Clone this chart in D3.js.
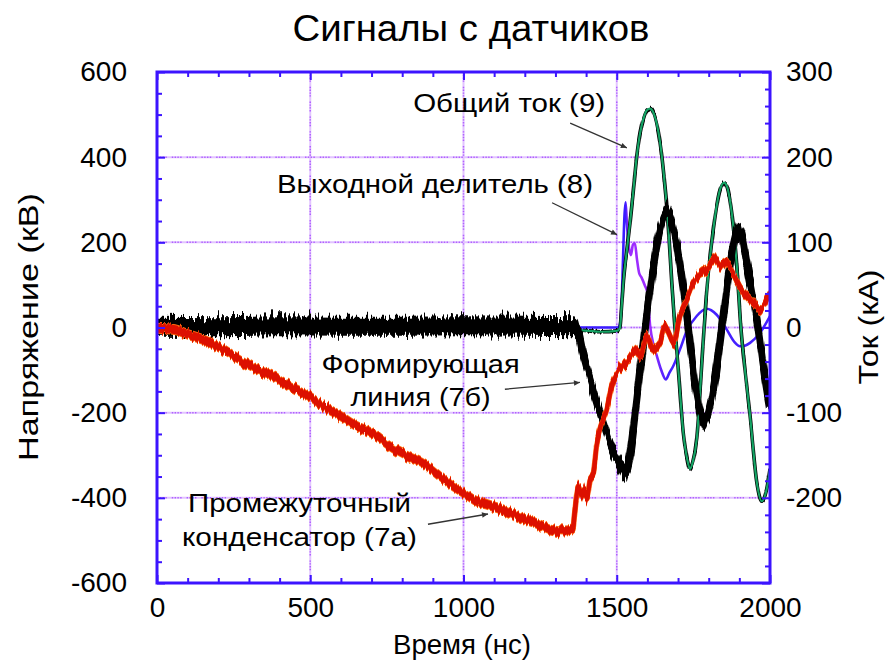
<!DOCTYPE html>
<html>
<head>
<meta charset="utf-8">
<script src="https://cdn.jsdelivr.net/npm/d3@7/dist/d3.min.js"></script>
<style>
  html, body { margin: 0; padding: 0; background: #fff; }
  svg { display: block; font-family: "Liberation Sans", Arial, Helvetica, sans-serif; }
</style>
</head>
<body>
<svg id="chart" width="887" height="660"></svg>
<script>
// ---- axis ticks ----
const timeTicks = [0, 500, 1000, 1500, 2000];          // ns
const voltTicks = [-600, -400, -200, 0, 200, 400, 600]; // kV, left axis
const currTicks = [-300, -200, -100, 0, 100, 200, 300]; // kA, right axis
const gridTime = [500, 1000, 1500];
const gridVolt = [-400, -200, 0, 200, 400];

// ---- measured signals: [time ns, value] ----
// Формирующая линия (7б), kV
const formingLine = [
  [0, 3], [200, 2], [400, 4], [600, 3], [800, 3], [1000, 4], [1200, 3], [1360, 2],
  [1372, -5], [1390, -62], [1423, -146], [1456, -223], [1489, -292], [1508, -322],
  [1518, -336], [1526, -340], [1534, -330], [1543, -300], [1565, -172], [1587, -36],
  [1603, 58], [1630, 190], [1648, 246], [1658, 266], [1666, 273], [1674, 264],
  [1686, 230], [1717, 89], [1733, 0], [1761, -160], [1776, -208], [1786, -220],
  [1795, -210], [1806, -180], [1822, -115], [1843, 0], [1865, 125], [1882, 200],
  [1891, 226], [1898, 233], [1906, 222], [1924, 152], [1961, 0], [1978, -91], [2000, -190]
];

// Промежуточный конденсатор (7а), kV
const intermediateCap = [
  [0, -2], [60, -5], [108, -18], [150, -28], [216, -52], [260, -73], [325, -99],
  [379, -114], [434, -138], [499, -162], [543, -185], [590, -204], [652, -232],
  [706, -250], [760, -279], [815, -302], [869, -320], [902, -336], [945, -362],
  [1000, -388], [1043, -408], [1080, -416], [1130, -428], [1180, -445], [1239, -460],
  [1293, -475], [1330, -478], [1357, -475], [1362, -442], [1375, -372], [1386, -396],
  [1393, -378], [1402, -403], [1413, -357], [1424, -341], [1435, -271], [1445, -239],
  [1467, -192], [1483, -138], [1500, -106], [1532, -83], [1565, -52], [1576, -68],
  [1598, -20], [1619, -52], [1641, -36], [1657, 3], [1674, -20], [1685, -36],
  [1706, 27], [1728, 66], [1750, 105], [1772, 128], [1793, 136], [1821, 164],
  [1837, 144], [1859, 152], [1880, 128], [1907, 89], [1924, 74], [1946, 58],
  [1967, 42], [1984, 58], [1995, 74], [2000, 70]
];

// Выходной делитель (8), kV
const outputDivider = [
  [0, 0], [1000, 0], [1505, 0], [1512, 15], [1516, 60], [1520, 150], [1525, 260],
  [1529, 294], [1533, 245], [1538, 200], [1546, 170], [1553, 195], [1559, 198],
  [1566, 160], [1573, 128], [1581, 117], [1592, 98], [1600, 82], [1609, 3],
  [1619, -38], [1630, -65], [1645, -100], [1660, -122], [1672, -106], [1684, -91],
  [1706, -52], [1728, -9], [1761, 27], [1793, 44], [1826, 30], [1859, -5],
  [1885, -35], [1902, -44], [1920, -42], [1935, -36], [1967, -13], [2000, 27]
];

// Общий ток (9), kA
const totalCurrent = [
  [0, -2], [400, -2], [800, -2], [1200, -3], [1370, -3], [1450, -5], [1500, -4],
  [1510, -1], [1516, 25], [1522, 55], [1532, 88], [1543, 122], [1554, 160],
  [1565, 200], [1576, 228], [1587, 245], [1598, 255], [1609, 257], [1620, 252],
  [1630, 240], [1641, 218], [1652, 185], [1668, 120], [1680, 50], [1690, 0],
  [1701, -50], [1717, -123], [1730, -155], [1739, -166], [1748, -158], [1761, -131],
  [1777, -45], [1785, 0], [1793, 40], [1815, 115], [1837, 162], [1850, 170],
  [1860, 165], [1869, 150], [1891, 76], [1905, 0], [1920, -55], [1935, -104],
  [1957, -182], [1973, -204], [1989, -190], [2000, -166]
];

// ---- annotations (time ns, kV on the left axis) ----
const notes = [
  { lines: ["Общий ток (9)"], t: 1149, v: 506, widths: [192],
    from: [1348, 480], to: [1533, 422] },
  { lines: ["Выходной делитель (8)"], t: 907, v: 316, widths: [316],
    from: [1289, 293], to: [1501, 218] },
  { lines: ["Формирующая", "линия (7б)"], t: 860, v: -106, widths: [198, 140],
    from: [1135, -145], to: [1380, -129] },
  { lines: ["Промежуточный", "конденсатор (7а)"], t: 465, v: -434, widths: [223, 235],
    from: [884, -462], to: [1080, -438] }
];

// ---- layout ----
const W = 887, H = 660;
const plot = { left: 157, right: 770, top: 72, bottom: 583 };
const frameColor = "#3c14ff";

const svg = d3.select("#chart");
const defs = svg.append("defs");

const x = d3.scaleLinear().domain([0, 2000]).range([plot.left, plot.right]);
const yV = d3.scaleLinear().domain([-600, 600]).range([plot.bottom, plot.top]);
const yI = d3.scaleLinear().domain([-300, 300]).range([plot.bottom, plot.top]);

// clip for traces
defs.append("clipPath").attr("id", "plotClip")
  .append("rect")
  .attr("x", plot.left).attr("y", plot.top)
  .attr("width", plot.right - plot.left).attr("height", plot.bottom - plot.top);

// jagged edges for noisy oscilloscope traces (vertical displacement only)
function roughFilter(id, scale, seed, fx) {
  const f = defs.append("filter").attr("id", id)
    .attr("filterUnits", "userSpaceOnUse")
    .attr("x", 0).attr("y", 0).attr("width", W).attr("height", H)
    .attr("color-interpolation-filters", "sRGB");
  f.append("feTurbulence").attr("type", "fractalNoise")
    .attr("baseFrequency", `${fx} 0.012`).attr("numOctaves", 2)
    .attr("seed", seed).attr("result", "noise");
  f.append("feColorMatrix").attr("in", "noise").attr("type", "matrix")
    .attr("values", "0 0 0 0 0.5  0 1 0 0 0  0 0 0 0 0  0 0 0 0 1")
    .attr("result", "disp");
  f.append("feDisplacementMap").attr("in", "SourceGraphic").attr("in2", "disp")
    .attr("scale", scale).attr("xChannelSelector", "R").attr("yChannelSelector", "G");
}
roughFilter("roughBlack", 20, 3, 0.45);
roughFilter("roughRed", 9, 11, 0.5);
roughFilter("roughGreen", 6, 21, 0.5);

// colour change along the divider trace
const grad = defs.append("linearGradient").attr("id", "dividerGrad")
  .attr("gradientUnits", "userSpaceOnUse")
  .attr("x1", x(1528)).attr("x2", x(1665)).attr("y1", 0).attr("y2", 0);
grad.append("stop").attr("offset", 0).attr("stop-color", "#3a1cff");
grad.append("stop").attr("offset", 0.08).attr("stop-color", "#9d2cff");
grad.append("stop").attr("offset", 0.6).attr("stop-color", "#9d2cff");
grad.append("stop").attr("offset", 1).attr("stop-color", "#4420ff");

// arrowhead
defs.append("marker").attr("id", "arrowHead")
  .attr("viewBox", "0 0 10 10").attr("refX", 10).attr("refY", 5)
  .attr("markerWidth", 10).attr("markerHeight", 6)
  .attr("markerUnits", "userSpaceOnUse").attr("orient", "auto")
  .append("path").attr("d", "M0,0.5 L10,5 L0,9.5 Z").attr("fill", "#333");

// ---- grid ----
const grid = svg.append("g");
function gridLine(x1, y1, x2, y2) {
  grid.append("line").attr("x1", x1).attr("y1", y1).attr("x2", x2).attr("y2", y2)
    .attr("stroke", "#e2c4ff").attr("stroke-width", 2);
  grid.append("line").attr("x1", x1).attr("y1", y1).attr("x2", x2).attr("y2", y2)
    .attr("stroke", "#b060ff").attr("stroke-width", 1.5)
    .attr("stroke-dasharray", "1.4,1.4,1.4,1.4,1.4,1.4,1.4,5");
}
gridTime.forEach(t => gridLine(x(t), plot.top, x(t), plot.bottom));
gridVolt.forEach(v => gridLine(plot.left, yV(v), plot.right, yV(v)));

// ---- traces ----
const traces = svg.append("g").attr("clip-path", "url(#plotClip)");

const lineOn = ys => d3.line().x(d => x(d[0])).y(d => ys(d[1])).curve(d3.curveMonotoneX);
const bandOn = (ys, half) => d3.area().x(d => x(d[0]))
  .y0(d => ys(d[1]) + half).y1(d => ys(d[1]) - half).curve(d3.curveMonotoneX);

// output divider (underneath: it sits on zero until the pulse)
traces.append("path").datum(outputDivider).attr("d", lineOn(yV))
  .attr("fill", "none").attr("stroke", "url(#dividerGrad)").attr("stroke-width", 2.6)
  .attr("stroke-linejoin", "round");

// total current: raw black trace under a green line
traces.append("path").datum(totalCurrent).attr("d", lineOn(yI))
  .attr("filter", "url(#roughGreen)")
  .attr("fill", "none").attr("stroke", "#000").attr("stroke-width", 3.6);
traces.append("path").datum(totalCurrent).attr("d", lineOn(yI))
  .attr("fill", "none").attr("stroke", "#14a364").attr("stroke-width", 2.2);

// forming line: thick noisy black
const gBlack = traces.append("g").attr("filter", "url(#roughBlack)");
gBlack.append("path").datum(formingLine).attr("d", bandOn(yV, 9.5)).attr("fill", "#000");
gBlack.append("path").datum(formingLine).attr("d", lineOn(yV))
  .attr("fill", "none").attr("stroke", "#000").attr("stroke-width", 7.5).attr("stroke-linejoin", "round");

// intermediate capacitor: red with orange fringe
const gRed = traces.append("g").attr("filter", "url(#roughRed)");
gRed.append("path").datum(intermediateCap).attr("d", bandOn(yV, 5.5)).attr("fill", "#ff6a10");
gRed.append("path").datum(intermediateCap).attr("d", lineOn(yV))
  .attr("fill", "none").attr("stroke", "#ff6a10").attr("stroke-width", 5.5);
gRed.append("path").datum(intermediateCap).attr("d", bandOn(yV, 4.5)).attr("fill", "#dc1000");
gRed.append("path").datum(intermediateCap).attr("d", lineOn(yV))
  .attr("fill", "none").attr("stroke", "#dc1000").attr("stroke-width", 4.6);

// ---- frame and ticks ----
svg.append("rect")
  .attr("x", plot.left).attr("y", plot.top)
  .attr("width", plot.right - plot.left).attr("height", plot.bottom - plot.top)
  .attr("fill", "none").attr("stroke", frameColor).attr("stroke-width", 3);

const plain = v => String(v);
function styleAxis(g, labels) {
  g.select(".domain").remove();
  g.selectAll(".tick line").attr("stroke", frameColor).attr("stroke-width", 2);
  g.selectAll(".tick text").attr("fill", "#000").attr("font-size", 28)
    .attr("font-family", "'Liberation Sans', Arial, Helvetica, sans-serif");
  if (!labels) g.selectAll(".tick text").remove();
}
const minorTime = d3.range(0, 2001, 100).filter(v => v % 500 !== 0);
const minorVolt = d3.range(-600, 601, 50).filter(v => v % 200 !== 0);
const minorCurr = d3.range(-300, 301, 20).filter(v => v % 100 !== 0);

// bottom
svg.append("g").attr("transform", `translate(0,${plot.bottom})`)
  .call(d3.axisBottom(x).tickValues(timeTicks).tickSizeInner(-8).tickSizeOuter(0).tickPadding(14).tickFormat(plain))
  .call(g => styleAxis(g, true));
svg.append("g").attr("transform", `translate(0,${plot.bottom})`)
  .call(d3.axisBottom(x).tickValues(minorTime).tickSizeInner(-5).tickSizeOuter(0).tickFormat(""))
  .call(g => styleAxis(g, false));
// top
svg.append("g").attr("transform", `translate(0,${plot.top})`)
  .call(d3.axisTop(x).tickValues(timeTicks).tickSizeInner(-8).tickSizeOuter(0).tickFormat(""))
  .call(g => styleAxis(g, false));
svg.append("g").attr("transform", `translate(0,${plot.top})`)
  .call(d3.axisTop(x).tickValues(minorTime).tickSizeInner(-5).tickSizeOuter(0).tickFormat(""))
  .call(g => styleAxis(g, false));
// left
svg.append("g").attr("transform", `translate(${plot.left},0)`)
  .call(d3.axisLeft(yV).tickValues(voltTicks).tickSizeInner(-8).tickSizeOuter(0).tickPadding(30).tickFormat(plain))
  .call(g => styleAxis(g, true));
svg.append("g").attr("transform", `translate(${plot.left},0)`)
  .call(d3.axisLeft(yV).tickValues(minorVolt).tickSizeInner(-5).tickSizeOuter(0).tickFormat(""))
  .call(g => styleAxis(g, false));
// right
svg.append("g").attr("transform", `translate(${plot.right},0)`)
  .call(d3.axisRight(yI).tickValues(currTicks).tickSizeInner(-8).tickSizeOuter(0).tickPadding(16)
    .tickFormat(v => v === -300 ? "" : String(v)))
  .call(g => styleAxis(g, true));
svg.append("g").attr("transform", `translate(${plot.right},0)`)
  .call(d3.axisRight(yI).tickValues(minorCurr).tickSizeInner(-5).tickSizeOuter(0).tickFormat(""))
  .call(g => styleAxis(g, false));

// ---- titles ----
svg.append("text").attr("x", 471).attr("y", 41).attr("text-anchor", "middle")
  .attr("font-size", 36).attr("textLength", 357).attr("lengthAdjust", "spacingAndGlyphs")
  .text("Сигналы с датчиков");
svg.append("text").attr("x", 462).attr("y", 654).attr("text-anchor", "middle")
  .attr("font-size", 28).attr("textLength", 138).attr("lengthAdjust", "spacingAndGlyphs")
  .text("Время (нс)");
svg.append("text").attr("transform", "translate(38,327) rotate(-90)").attr("text-anchor", "middle")
  .attr("font-size", 28).attr("textLength", 268).attr("lengthAdjust", "spacingAndGlyphs")
  .text("Напряжение (кВ)");
svg.append("text").attr("transform", "translate(878,327) rotate(-90)").attr("text-anchor", "middle")
  .attr("font-size", 28).attr("textLength", 115).attr("lengthAdjust", "spacingAndGlyphs")
  .text("Ток (кА)");

// ---- annotations ----
const ann = svg.append("g");
notes.forEach(n => {
  n.lines.forEach((s, i) => {
    ann.append("text")
      .attr("x", x(n.t)).attr("y", yV(n.v) + i * 33.4)
      .attr("text-anchor", "middle").attr("font-size", 26)
      .attr("textLength", n.widths[i]).attr("lengthAdjust", "spacingAndGlyphs")
      .text(s);
  });
  ann.append("line")
    .attr("x1", x(n.from[0])).attr("y1", yV(n.from[1]))
    .attr("x2", x(n.to[0])).attr("y2", yV(n.to[1]))
    .attr("stroke", "#333").attr("stroke-width", 1.3)
    .attr("marker-end", "url(#arrowHead)");
});
</script>
</body>
</html>
